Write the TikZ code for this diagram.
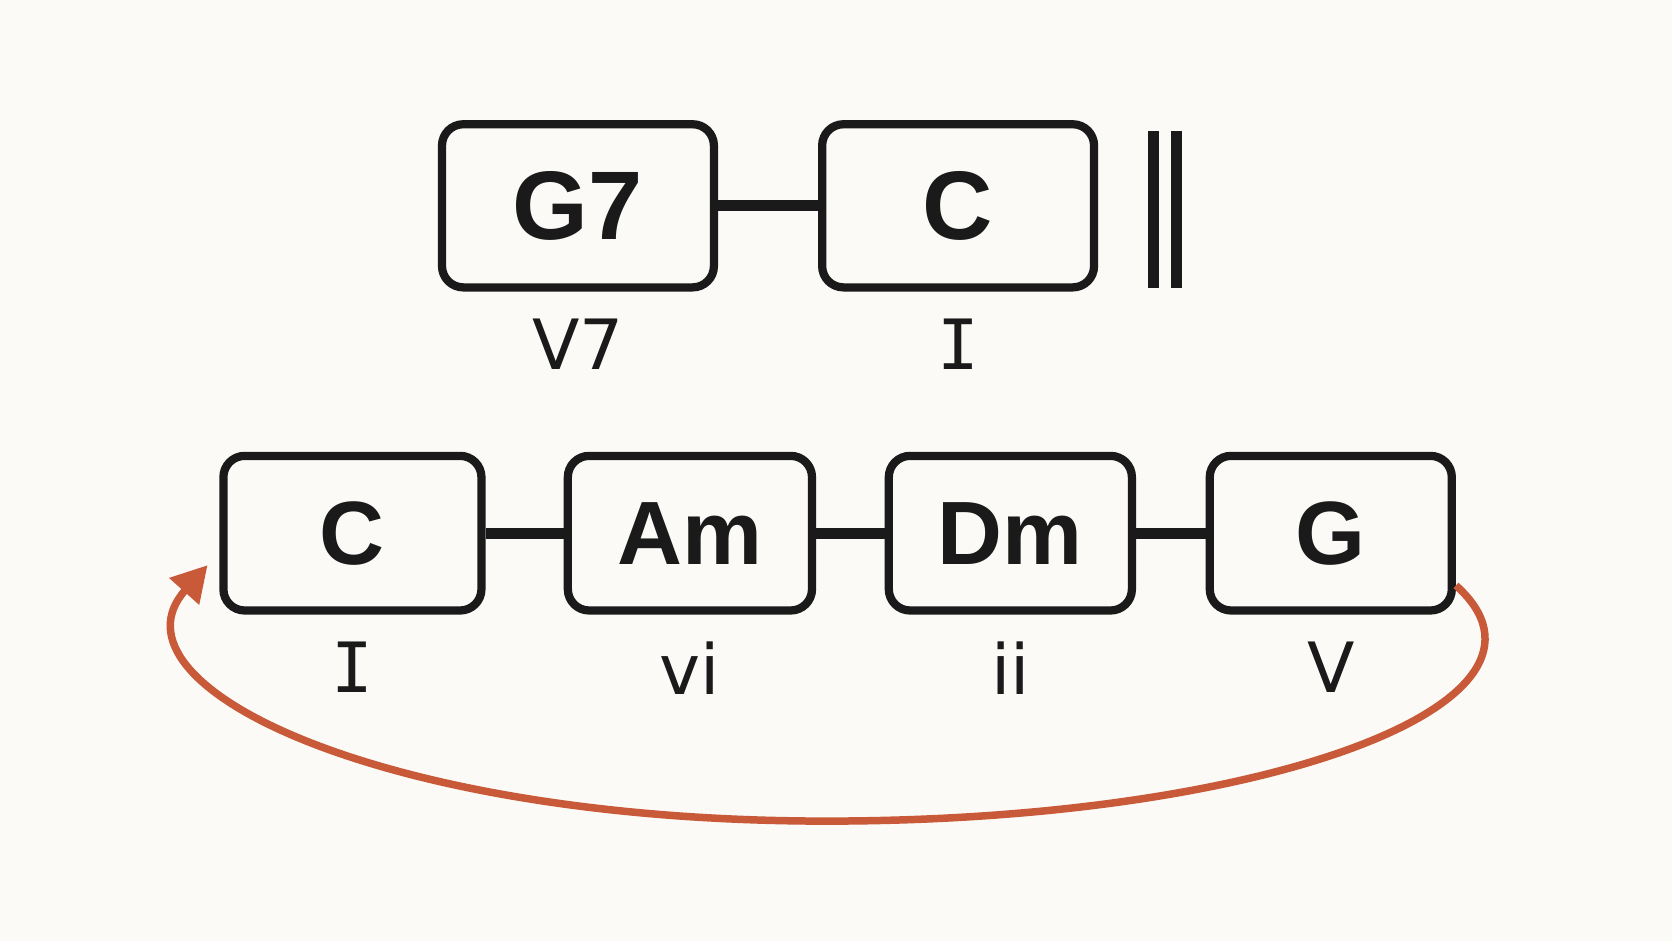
\documentclass[tikz,border=0pt]{standalone}
\usepackage{fontspec}
\setmainfont{Liberation Sans}
\newfontfamily\degfont{DejaVu Sans}
\newfontfamily\degmono{DejaVu Sans Mono}
\usetikzlibrary{positioning,arrows.meta}
\definecolor{paper}{RGB}{251,250,246}
\definecolor{ink}{RGB}{26,26,26}
\definecolor{loopred}{RGB}{200,90,58}
\begin{document}
\begin{tikzpicture}[
    chord/.style={draw=ink, line width=2.2pt, rounded corners=0.2cm, inner sep=0pt, text=ink},
    bigchord/.style={chord, minimum width=2.55cm, minimum height=1.53cm, font=\bfseries\fontsize{26}{28}\selectfont},
    smallchord/.style={chord, minimum height=1.45cm, font=\bfseries\fontsize{24}{26}\selectfont},
    degree/.style={inner sep=0pt, text=ink, font=\degfont\fontsize{18.5}{20}\selectfont},
    link/.style={draw=ink, line width=3pt}]
  \fill[paper] (0,0) rectangle (15.68,-8.82);
  % cadence
  \draw
    (5.42,-1.93) node[bigchord] (g7){G7}
    (8.985,-1.93) node[bigchord] (ctop){C};
  \node[degree, below=0.25cm of g7] (v7){V7};
  \node[degree, below=0.25cm of ctop] (itop){\degmono I};
  \draw[ink, line width=3pt] (10.82,-1.23) -- (10.82,-2.70);
  \draw[ink, line width=3pt] (11.03,-1.23) -- (11.03,-2.70);
  % progression
  \draw
    (3.305,-5.00) node[smallchord, minimum width=2.42cm] (c){C}
    (6.47,-5.00) node[smallchord, minimum width=2.29cm] (am){Am}
    (9.475,-5.00) node[smallchord, minimum width=2.28cm] (dm){Dm}
    (12.48,-5.00) node[smallchord, minimum width=2.27cm] (g){G};
  \node[degree, below=0.25cm of c] (i){\degmono I};
  \node[degree, below=0.25cm of am] (vi){vi};
  \node[degree, below=0.25cm of dm] (ii){ii};
  \node[degree, below=0.25cm of g] (v){V};
  \begin{scope}[link]
    \draw (g7) to (ctop);
    \draw (c) to (am);
    \draw (am) to (dm);
    \draw (dm) to (g);
  \end{scope}
  % back to the start
  \coordinate (loopbottom) at (7.75,-7.70);
  \draw[loopred, line width=2pt, -{Triangle[length=0.33cm, width=0.36cm]}]
    ([yshift=-0.49cm]g.east) .. controls +(1.21,-1.09) and +(4.15,0) .. (loopbottom)
    .. controls +(-4.2,0) and +(-1.0,-1.12) .. ([xshift=-0.11cm, yshift=-0.30cm]c.west);
\end{tikzpicture}
\end{document}
